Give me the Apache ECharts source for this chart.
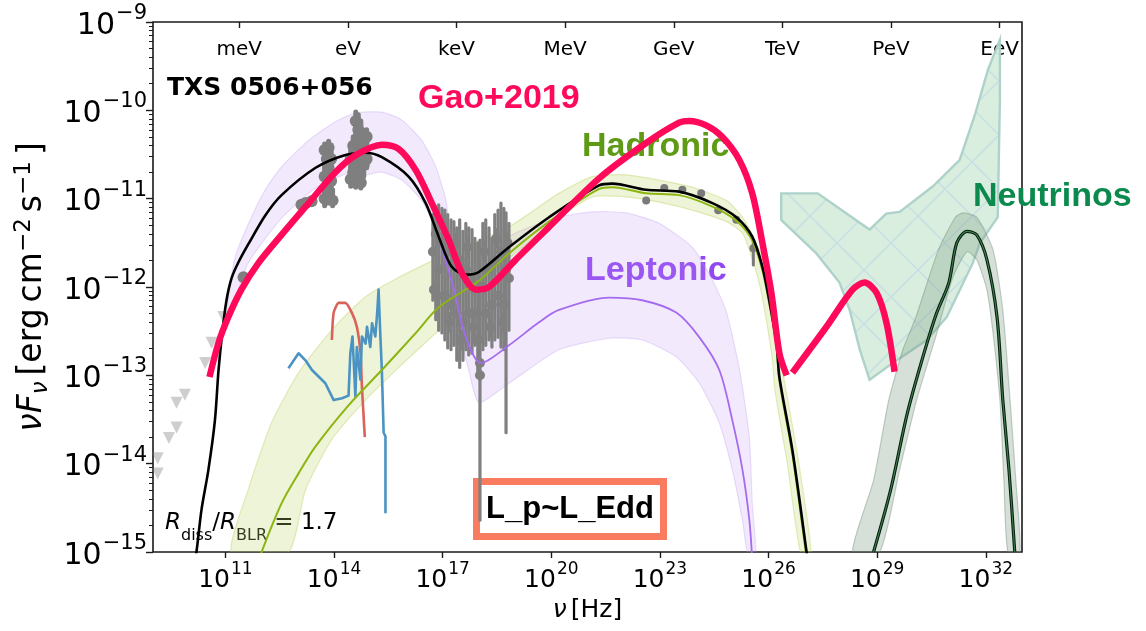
<!DOCTYPE html>
<html>
<head>
<meta charset="utf-8">
<title>TXS 0506+056 SED</title>
<script src="https://cdn.jsdelivr.net/npm/echarts@6/dist/echarts.min.js"></script>
<style>
  html, body { margin: 0; padding: 0; background: #fff; }
  #chart { width: 1146px; height: 631px; }
</style>
</head>
<body>
<div id="chart"></div>
<script>
// All values are [log10(nu / Hz), log10(nu F_nu / erg cm^-2 s^-1)].

// Axis ticks
const freqTicks = [11, 14, 17, 20, 23, 26, 29, 32];
const fluxTicks = [-15, -14, -13, -12, -11, -10, -9];
const energyLabels = ['meV', 'eV', 'keV', 'MeV', 'GeV', 'TeV', 'PeV', 'EeV'];
const energyTicks = [11.383, 14.383, 17.383, 20.383, 23.383, 26.383, 29.383, 32.383];

// Total model (black)
const totalModel = [
  [10.11,-15.20],[10.20,-15.00],[10.34,-14.52],[10.53,-14.07],[10.71,-13.51],[10.81,-12.94],
  [10.92,-12.49],[11.03,-12.15],[11.17,-11.90],[11.36,-11.72],[11.64,-11.51],[12.10,-11.19],
  [12.55,-10.96],[13.49,-10.65],[14.27,-10.51],[14.87,-10.48],[15.32,-10.53],[16.06,-10.75],
  [16.53,-11.05],[16.89,-11.43],[17.25,-11.77],[17.67,-11.86],[18.00,-11.83],[18.83,-11.55],
  [19.94,-11.21],[21.32,-10.85],[21.68,-10.83],[22.62,-10.90],[23.53,-10.92],[24.45,-11.05],
  [25.11,-11.21],[25.55,-11.43],[25.83,-11.77],[26.02,-12.15],[26.22,-12.63],[26.30,-13.02],
  [26.66,-13.85],[27.05,-15.00],[27.13,-15.26]
];

// Gao+2019 photon SED and neutrino bump (pink)
const gaoPhoton = [
  [10.56,-13.02],[10.81,-12.63],[11.08,-12.34],[11.44,-12.03],[11.91,-11.73],[12.55,-11.41],
  [13.30,-11.05],[14.04,-10.70],[14.59,-10.51],[15.32,-10.39],[15.79,-10.44],[16.26,-10.68],
  [16.70,-11.05],[17.17,-11.47],[17.53,-11.84],[17.92,-12.03],[18.28,-12.00],[19.02,-11.69],
  [19.94,-11.32],[21.32,-10.77],[22.62,-10.37],[23.53,-10.14],[23.81,-10.12],[24.28,-10.17],
  [24.72,-10.30],[25.19,-10.56],[25.55,-10.94],[25.83,-11.50],[26.08,-12.07],[26.30,-12.75],
  [26.50,-13.00]
];
const gaoNeutrino = [
  [26.66,-12.97],[27.60,-12.45],[28.32,-12.03],[28.65,-11.95],[28.99,-12.07],[29.26,-12.41],
  [29.48,-12.96]
];

// Leptonic component
const leptonicLine = [
  [16.89,-11.43],[17.31,-12.03],[17.64,-12.57],[18.06,-12.86],[18.83,-12.66],[19.66,-12.40],
  [20.21,-12.26],[21.60,-12.12],[22.51,-12.15],[23.45,-12.29],[24.09,-12.57],[24.64,-12.94],
  [25.00,-13.51],[25.28,-14.07],[25.47,-14.64],[25.55,-15.09]
];
const leptonicUpper = [
  [11.08,-12.11],[11.27,-11.66],[11.64,-11.28],[12.10,-10.90],[12.55,-10.64],[13.30,-10.34],
  [14.04,-10.13],[14.59,-10.03],[15.32,-10.02],[15.87,-10.11],[16.42,-10.34],[16.81,-10.64],
  [17.09,-11.02],[17.23,-11.47],[17.50,-11.81],[18.00,-11.92],[18.42,-11.72],[18.83,-11.43],
  [20.21,-11.21],[21.13,-11.15],[22.07,-11.16],[22.98,-11.28],[23.89,-11.55],[24.45,-11.92],
  [24.84,-12.29],[25.20,-12.94],[25.47,-13.70],[25.55,-14.45],[25.64,-15.00]
];
const leptonicLower = [
  [11.06,-12.43],[11.36,-12.03],[11.64,-11.72],[12.55,-11.22],[13.49,-10.88],[14.40,-10.71],
  [14.87,-10.73],[15.32,-10.70],[15.87,-10.79],[16.42,-11.02],[16.81,-11.35],[16.97,-11.73],
  [17.17,-12.03],[17.45,-12.49],[17.72,-12.94],[18.00,-13.31],[18.83,-13.09],[20.21,-12.71],
  [21.60,-12.58],[22.51,-12.60],[23.45,-12.79],[24.09,-13.09],[24.64,-13.54],[25.00,-14.07],
  [25.28,-14.64],[25.42,-15.00]
];

// Hadronic component
const hadronicLine = [
  [11.90,-15.15],[12.00,-15.00],[12.55,-14.45],[13.02,-14.11],[13.48,-13.81],[14.40,-13.34],
  [15.32,-12.94],[16.26,-12.52],[16.89,-12.23],[18.00,-11.93],[18.83,-11.62],[19.94,-11.26],
  [21.32,-10.89],[21.68,-10.87],[22.62,-10.94],[23.53,-10.96],[24.45,-11.09],[25.11,-11.25],
  [25.55,-11.47],[25.83,-11.81],[26.02,-12.19],[26.22,-12.67],[26.30,-13.06],[26.66,-13.90],
  [27.03,-15.00],[27.10,-15.20]
];
const hadronicUpper = [
  [11.17,-15.00],[11.64,-14.28],[12.27,-13.54],[13.02,-12.97],[13.93,-12.49],[14.87,-12.11],
  [15.79,-11.89],[16.89,-11.67],[18.00,-11.47],[18.83,-11.32],[20.21,-10.94],[21.13,-10.75],
  [22.07,-10.73],[22.98,-10.79],[23.89,-10.87],[24.84,-11.02],[25.28,-11.21],[25.60,-11.45],
  [25.92,-11.77],[26.12,-12.15],[26.32,-12.63],[26.42,-13.02],[26.78,-13.85],[27.17,-15.00]
];
const hadronicLower = [
  [12.74,-15.00],[13.21,-14.30],[13.93,-13.73],[14.87,-13.28],[15.79,-12.91],[16.89,-12.49],
  [18.00,-12.03],[18.83,-11.68],[20.21,-11.22],[21.13,-10.98],[22.07,-10.98],[22.98,-11.04],
  [23.89,-11.13],[24.84,-11.26],[25.28,-11.39],[25.50,-11.62],[25.74,-11.95],[25.92,-12.33],
  [26.10,-12.80],[26.18,-13.18],[26.52,-14.00],[26.88,-15.00]
];

// Neutrino model
const neutrinoLine = [
  [28.90,-15.00],[29.37,-14.30],[29.82,-13.45],[30.20,-12.88],[30.62,-12.32],[30.98,-11.95],
  [31.20,-11.50],[31.48,-11.37],[31.75,-11.41],[32.03,-11.69],[32.31,-12.34],[32.47,-13.28],
  [32.64,-14.07],[32.80,-15.00]
];
const neutrinoOuter = [
  [28.32,-15.00],[28.90,-14.19],[29.32,-13.28],[29.71,-12.71],[30.07,-12.34],[30.69,-11.58],
  [31.16,-11.21],[31.37,-11.16],[31.75,-11.21],[32.20,-11.58],[32.47,-12.26],[32.67,-13.28],
  [32.83,-14.19],[32.94,-15.00]
];
const neutrinoInner = [
  [29.07,-15.00],[29.62,-14.07],[30.09,-13.28],[30.65,-12.52],[31.09,-11.89],[31.48,-11.60],
  [31.75,-11.69],[32.03,-12.03],[32.20,-12.52],[32.39,-13.28],[32.50,-14.19],[32.61,-15.00]
];

// IceCube neutrino flux region
const icecubeRegion = [
  [26.35,-10.94],[27.36,-10.94],[28.79,-11.35],[29.25,-11.17],[29.62,-11.15],[30.54,-10.86],
  [31.28,-10.56],[31.70,-10.05],[32.06,-9.54],[32.39,-9.20],[32.39,-9.88],[32.33,-11.21],
  [31.84,-11.50],[31.64,-11.73],[30.92,-12.34],[30.37,-12.60],[29.43,-12.86],[28.79,-13.05],
  [28.52,-12.71],[28.24,-12.26],[27.96,-11.95],[27.32,-11.62],[26.35,-11.24]
];

// Archival measurements: [log nu, log nuFnu, lower, upper]
const radioOpticalData = [
  [11.50,-11.89],[13.10,-11.07],[13.22,-11.05],[13.38,-11.03],
  [13.74,-10.45,-10.60,-10.38],[13.74,-10.75,-10.90,-10.60],[13.74,-11.00,-11.08,-10.88],
  [13.80,-10.55,-10.70,-10.40],[13.80,-10.88,-11.05,-10.70],
  [13.85,-10.42,-10.50,-10.35],[13.85,-10.65,-10.80,-10.50],[13.85,-10.92,-11.05,-10.80],
  [13.92,-10.55,-10.65,-10.45],[13.92,-10.80,-10.95,-10.65],[13.96,-11.02,-11.08,-10.90],
  [14.46,-10.55,-10.70,-10.42],[14.46,-10.78,-10.86,-10.65],
  [14.53,-10.40,-10.60,-10.30],[14.53,-10.70,-10.85,-10.55],
  [14.60,-10.12,-10.30,-10.02],[14.60,-10.45,-10.60,-10.30],[14.60,-10.75,-10.87,-10.60],
  [14.67,-10.22,-10.40,-10.05],[14.67,-10.55,-10.70,-10.40],
  [14.74,-10.25,-10.40,-10.12],[14.74,-10.55,-10.70,-10.40],[14.74,-10.82,-10.88,-10.70],
  [14.82,-10.35,-10.45,-10.25],[14.82,-10.62,-10.75,-10.50],
  [14.90,-10.30,-10.40,-10.22],[14.90,-10.55,-10.65,-10.45]
];
// X-ray spectra: each entry is one bin with its flux range
const xrayData = [
  [16.73,-11.60,-12.15,-11.18],[16.76,-12.03,-12.10,-11.95],[16.81,-11.40,-12.37,-11.09],
  [16.89,-11.80,-12.49,-11.07],[16.98,-11.50,-12.52,-11.11],[17.06,-12.10,-12.60,-11.13],
  [17.14,-11.60,-12.69,-11.18],[17.23,-12.20,-12.71,-11.24],[17.31,-11.75,-12.66,-11.26],
  [17.39,-12.30,-12.83,-11.33],[17.47,-11.70,-12.91,-11.24],[17.56,-12.40,-12.83,-11.37],
  [17.64,-11.80,-12.71,-11.28],[17.72,-12.30,-12.77,-11.33],[17.81,-11.90,-12.75,-11.35],
  [17.89,-12.30,-12.66,-11.45],[17.97,-12.60,-13.00,-11.50],[18.03,-12.86,-14.64,-11.47],
  [18.03,-13.00,-13.05,-12.95],[18.11,-12.00,-12.71,-11.28],[18.19,-12.30,-12.66,-11.24],
  [18.28,-11.80,-12.60,-11.33],[18.36,-12.20,-12.68,-11.45],[18.44,-11.70,-12.60,-11.18],
  [18.53,-12.10,-12.57,-11.13],[18.61,-11.60,-12.68,-11.05],[18.69,-12.20,-12.71,-11.11],
  [18.75,-11.80,-13.65,-11.16],[18.83,-11.90,-12.49,-11.28],
  [16.85,-12.10,-12.20,-12.00],[17.02,-11.30,-11.40,-11.20],[17.19,-12.40,-12.50,-12.30],
  [17.35,-11.50,-11.60,-11.40],[17.52,-12.60,-12.70,-12.50],[17.68,-11.55,-11.65,-11.45],
  [17.85,-12.45,-12.55,-12.35],[18.15,-11.60,-11.70,-11.50],[18.32,-12.45,-12.55,-12.35],
  [18.48,-11.45,-11.55,-11.35],[18.65,-12.40,-12.50,-12.30],[18.79,-11.50,-11.60,-11.40]
];
const gammaData = [
  [22.62,-11.02],[23.12,-10.88],[23.62,-10.90],[24.14,-10.94],[24.61,-11.13],[25.11,-11.24],
  [25.58,-11.56,-11.75,-11.47]
];
const radioUpperLimits = [
  [10.94,-12.34],[10.62,-12.63],[10.44,-12.86],[9.88,-13.22],[9.65,-13.31],[9.65,-13.59],
  [9.44,-13.71],[9.13,-13.94],[9.13,-14.11]
];

// Other emission components
const dustComponent = [
  [13.94,-12.60],[13.99,-12.29],[14.13,-12.18],[14.31,-12.18],[14.49,-12.29],[14.63,-12.45],
  [14.73,-12.75],[14.77,-13.13],[14.85,-13.70]
];
const diskComponent = [
  [12.74,-12.92],[13.02,-12.75],[13.21,-12.83],[13.39,-12.94],[13.76,-13.09],[13.99,-13.28],
  [14.22,-13.26],[14.40,-13.23],[14.45,-12.75],[14.51,-12.56],[14.59,-13.24],[14.63,-12.68],
  [14.73,-13.05],[14.77,-12.56],[14.87,-12.64],[14.91,-12.45],[15.00,-12.68],[15.05,-12.41],
  [15.14,-12.56],[15.19,-12.30],[15.23,-12.03],[15.28,-12.56],[15.32,-12.94],[15.37,-13.65],
  [15.42,-13.69],[15.42,-14.56]
];

// ---------- helpers ----------
const FONT = "'DejaVu Sans', sans-serif";
const BOLD = "'Liberation Sans', Arial, sans-serif";

function band(upper, lower, fill, stroke, smooth) {
  const pts = upper.concat(lower.slice().reverse());
  return {
    type: 'custom', silent: true, clip: true,
    data: [pts[0]],
    renderItem: (params, api) => ({
      type: 'polygon',
      shape: { points: pts.map(p => api.coord(p)), smooth: smooth || 0 },
      style: { fill: fill, stroke: stroke, lineWidth: 1.2 }
    })
  };
}

function lineSeries(data, color, width, extra) {
  return Object.assign({
    type: 'line', data: data, showSymbol: false, symbol: 'none', silent: true,
    smooth: 0.3, clip: true,
    lineStyle: { color: color, width: width, cap: 'butt', join: 'round' }
  }, extra || {});
}

function pointsWithBars(data, color, radius, barWidth) {
  return {
    type: 'custom', silent: true, clip: true,
    data: data.map(d => [d[0], d[1], d.length > 2 ? d[2] : d[1], d.length > 3 ? d[3] : d[1]]),
    encode: { x: 0, y: 1 },
    renderItem: (params, api) => {
      const x = api.value(0);
      const c = api.coord([x, api.value(1)]);
      const lo = api.coord([x, api.value(2)]);
      const hi = api.coord([x, api.value(3)]);
      return {
        type: 'group',
        children: [
          { type: 'line', shape: { x1: lo[0], y1: lo[1], x2: hi[0], y2: hi[1] },
            style: { stroke: color, lineWidth: barWidth, lineCap: 'round' } },
          { type: 'circle', shape: { cx: c[0], cy: c[1], r: radius }, style: { fill: color } }
        ]
      };
    }
  };
}

// diagonal cross-hatch used for the IceCube region
const hatch = document.createElement('canvas');
hatch.width = 54; hatch.height = 54;
(function () {
  const g = hatch.getContext('2d');
  g.fillStyle = '#d9eede';
  g.fillRect(0, 0, 54, 54);
  g.strokeStyle = 'rgba(192,220,228,0.9)';
  g.lineWidth = 1.5;
  g.beginPath();
  g.moveTo(0, 0); g.lineTo(54, 54);
  g.moveTo(54, 0); g.lineTo(0, 54);
  g.stroke();
})();

const xRich = {
  b: { fontSize: 25, fontFamily: FONT, color: '#000', lineHeight: 32, verticalAlign: 'bottom' },
  s: { fontSize: 17, fontFamily: FONT, color: '#000', lineHeight: 32, verticalAlign: 'top', padding: [0, 0, 0, 1] }
};
const yRich = {
  b: { fontSize: 30, fontFamily: FONT, color: '#000', lineHeight: 38, verticalAlign: 'bottom' },
  s: { fontSize: 21, fontFamily: FONT, color: '#000', lineHeight: 38, verticalAlign: 'top', padding: [0, 0, 0, 1] }
};

const minorFluxTicks = [];
for (let d = -15; d < -9; d++) {
  for (let k = 2; k <= 9; k++) minorFluxTicks.push(d + Math.log10(k));
}

const chart = echarts.init(document.getElementById('chart'), null, { renderer: 'canvas' });

chart.setOption({
  animation: false,
  backgroundColor: '#fff',
  grid: { left: 153, right: 124, top: 22, bottom: 79, show: true, borderColor: '#1a1a1a', borderWidth: 1.6 },
  xAxis: [
    {
      type: 'value', min: 9, max: 33, position: 'bottom',
      axisLine: { show: false }, splitLine: { show: false },
      axisTick: { show: true, customValues: freqTicks, length: 6, lineStyle: { color: '#1a1a1a', width: 1.4 } },
      axisLabel: {
        customValues: freqTicks, margin: 9, color: '#000',
        formatter: v => '{b|10}{s|' + v + '}', rich: xRich
      },
      name: '{i|ν}{r|[Hz]}', nameLocation: 'middle', nameGap: 46,
      nameTextStyle: {
        rich: {
          i: { fontSize: 25, fontFamily: FONT, fontStyle: 'italic', color: '#000' },
          r: { fontSize: 25, fontFamily: FONT, color: '#000', padding: [0, 0, 0, 4] }
        }
      }
    },
    {
      type: 'value', min: 9, max: 33, position: 'top',
      axisLine: { show: false }, splitLine: { show: false },
      axisTick: { show: true, inside: true, customValues: energyTicks, length: 6, lineStyle: { color: '#1a1a1a', width: 1.4 } },
      axisLabel: {
        inside: true, customValues: energyTicks, margin: 18, color: '#000',
        fontSize: 20, fontFamily: FONT,
        formatter: v => energyLabels[Math.round((v - energyTicks[0]) / 3)]
      }
    }
  ],
  yAxis: [
    {
      type: 'value', min: -15, max: -9, interval: 1, position: 'left',
      axisLine: { show: false }, splitLine: { show: false },
      axisTick: { show: true, length: 7, lineStyle: { color: '#1a1a1a', width: 1.4 } },
      axisLabel: {
        margin: 6, color: '#000',
        formatter: v => '{b|10}{s|−' + Math.abs(v) + '}', rich: yRich
      },
      name: '{i|ν}{i|F}{u|ν}{r|[erg}{r|cm}{p|−2}{r|s}{p|−1}{r|]}',
      nameLocation: 'middle', nameRotate: 90, nameGap: 96,
      nameTextStyle: {
        rich: {
          i: { fontSize: 33, fontFamily: FONT, fontStyle: 'italic', color: '#000', lineHeight: 40, verticalAlign: 'middle' },
          u: { fontSize: 23, fontFamily: FONT, fontStyle: 'italic', color: '#000', lineHeight: 40, verticalAlign: 'bottom' },
          r: { fontSize: 33, fontFamily: FONT, color: '#000', lineHeight: 40, verticalAlign: 'middle', padding: [0, 0, 0, 6] },
          p: { fontSize: 23, fontFamily: FONT, color: '#000', lineHeight: 40, verticalAlign: 'top' }
        }
      }
    },
    {
      type: 'value', min: -15, max: -9, position: 'left',
      axisLine: { show: false }, splitLine: { show: false }, axisLabel: { show: false },
      axisTick: { show: true, customValues: minorFluxTicks, length: 4, lineStyle: { color: '#1a1a1a', width: 1 } }
    }
  ],
  series: [
    band(leptonicUpper, leptonicLower, 'rgba(190,150,240,0.20)', 'rgba(190,150,240,0.30)', 0.2),
    band(hadronicUpper, hadronicLower, 'rgba(195,215,110,0.28)', 'rgba(190,210,100,0.40)', 0.2),
    {
      type: 'custom', silent: true, clip: true, data: [icecubeRegion[0]],
      renderItem: (params, api) => ({
        type: 'polygon',
        shape: { points: icecubeRegion.map(p => api.coord(p)) },
        style: { fill: { image: hatch, repeat: 'repeat' }, stroke: '#abd0c7', lineWidth: 2.4, opacity: 0.95 }
      })
    },
    band(neutrinoOuter, neutrinoInner, 'rgba(120,152,128,0.30)', 'rgba(110,140,118,0.40)', 0.2),
    {
      type: 'scatter', data: radioUpperLimits, symbol: 'triangle', symbolRotate: 180, symbolSize: 12,
      silent: true, itemStyle: { color: 'rgba(120,120,120,0.45)' }
    },
    pointsWithBars(radioOpticalData, '#7f7f7f', 6, 5),
    pointsWithBars(xrayData, '#808080', 5, 3.2),
    pointsWithBars(gammaData, '#7a7a7a', 4, 3),
    lineSeries(dustComponent, '#d9625a', 2.6, { smooth: 0.2 }),
    lineSeries(diskComponent, '#4b93c3', 2.6, { smooth: false }),
    lineSeries(leptonicLine, '#a46af0', 1.8),
    lineSeries(hadronicLine, '#8db512', 2),
    lineSeries(neutrinoLine, '#07200f', 3.2),
    lineSeries(neutrinoLine, '#3f7d4c', 1.1),
    lineSeries(totalModel, '#000000', 2.6),
    lineSeries(gaoPhoton, '#ff0a5a', 6.5),
    lineSeries(gaoNeutrino, '#ff0a5a', 6.5)
  ],
  graphic: [
    { type: 'text', left: 167, top: 76, silent: true,
      style: { text: 'TXS 0506+056', font: "bold 25px 'DejaVu Sans'", fill: '#000' } },
    { type: 'text', left: 418, top: 82, silent: true,
      style: { text: 'Gao+2019', font: "bold 34px " + BOLD, fill: '#ff0a5a' } },
    { type: 'text', left: 582, top: 130, silent: true,
      style: { text: 'Hadronic', font: "bold 34px " + BOLD, fill: '#5e9a14' } },
    { type: 'text', left: 585, top: 254, silent: true,
      style: { text: 'Leptonic', font: "bold 34px " + BOLD, fill: '#9148f2' } },
    { type: 'text', left: 973, top: 180, silent: true, z: 100,
      style: { text: 'Neutrinos', font: "bold 34px " + BOLD, fill: '#0c8a4e' } },
    { type: 'text', left: 165, top: 512, silent: true,
      style: {
        text: '{i|R}{d|diss}{n|/}{i|R}{d|BLR}{n| = 1.7}',
        rich: {
          i: { fontSize: 23, fontFamily: FONT, fontStyle: 'italic', color: '#000', lineHeight: 32, verticalAlign: 'top' },
          d: { fontSize: 16, fontFamily: FONT, color: '#000', lineHeight: 32, verticalAlign: 'bottom' },
          n: { fontSize: 23, fontFamily: FONT, color: '#000', lineHeight: 32, verticalAlign: 'top' }
        }
      } },
    { type: 'rect', silent: true, shape: { x: 476.5, y: 481.5, width: 187, height: 55 },
      style: { fill: '#fff', stroke: '#f97c60', lineWidth: 7 } },
    { type: 'text', silent: true, x: 570, y: 509,
      style: { text: 'L_p~L_Edd', font: "bold 31px " + BOLD, fill: '#000', align: 'center', verticalAlign: 'middle' } }
  ]
});
</script>
</body>
</html>
